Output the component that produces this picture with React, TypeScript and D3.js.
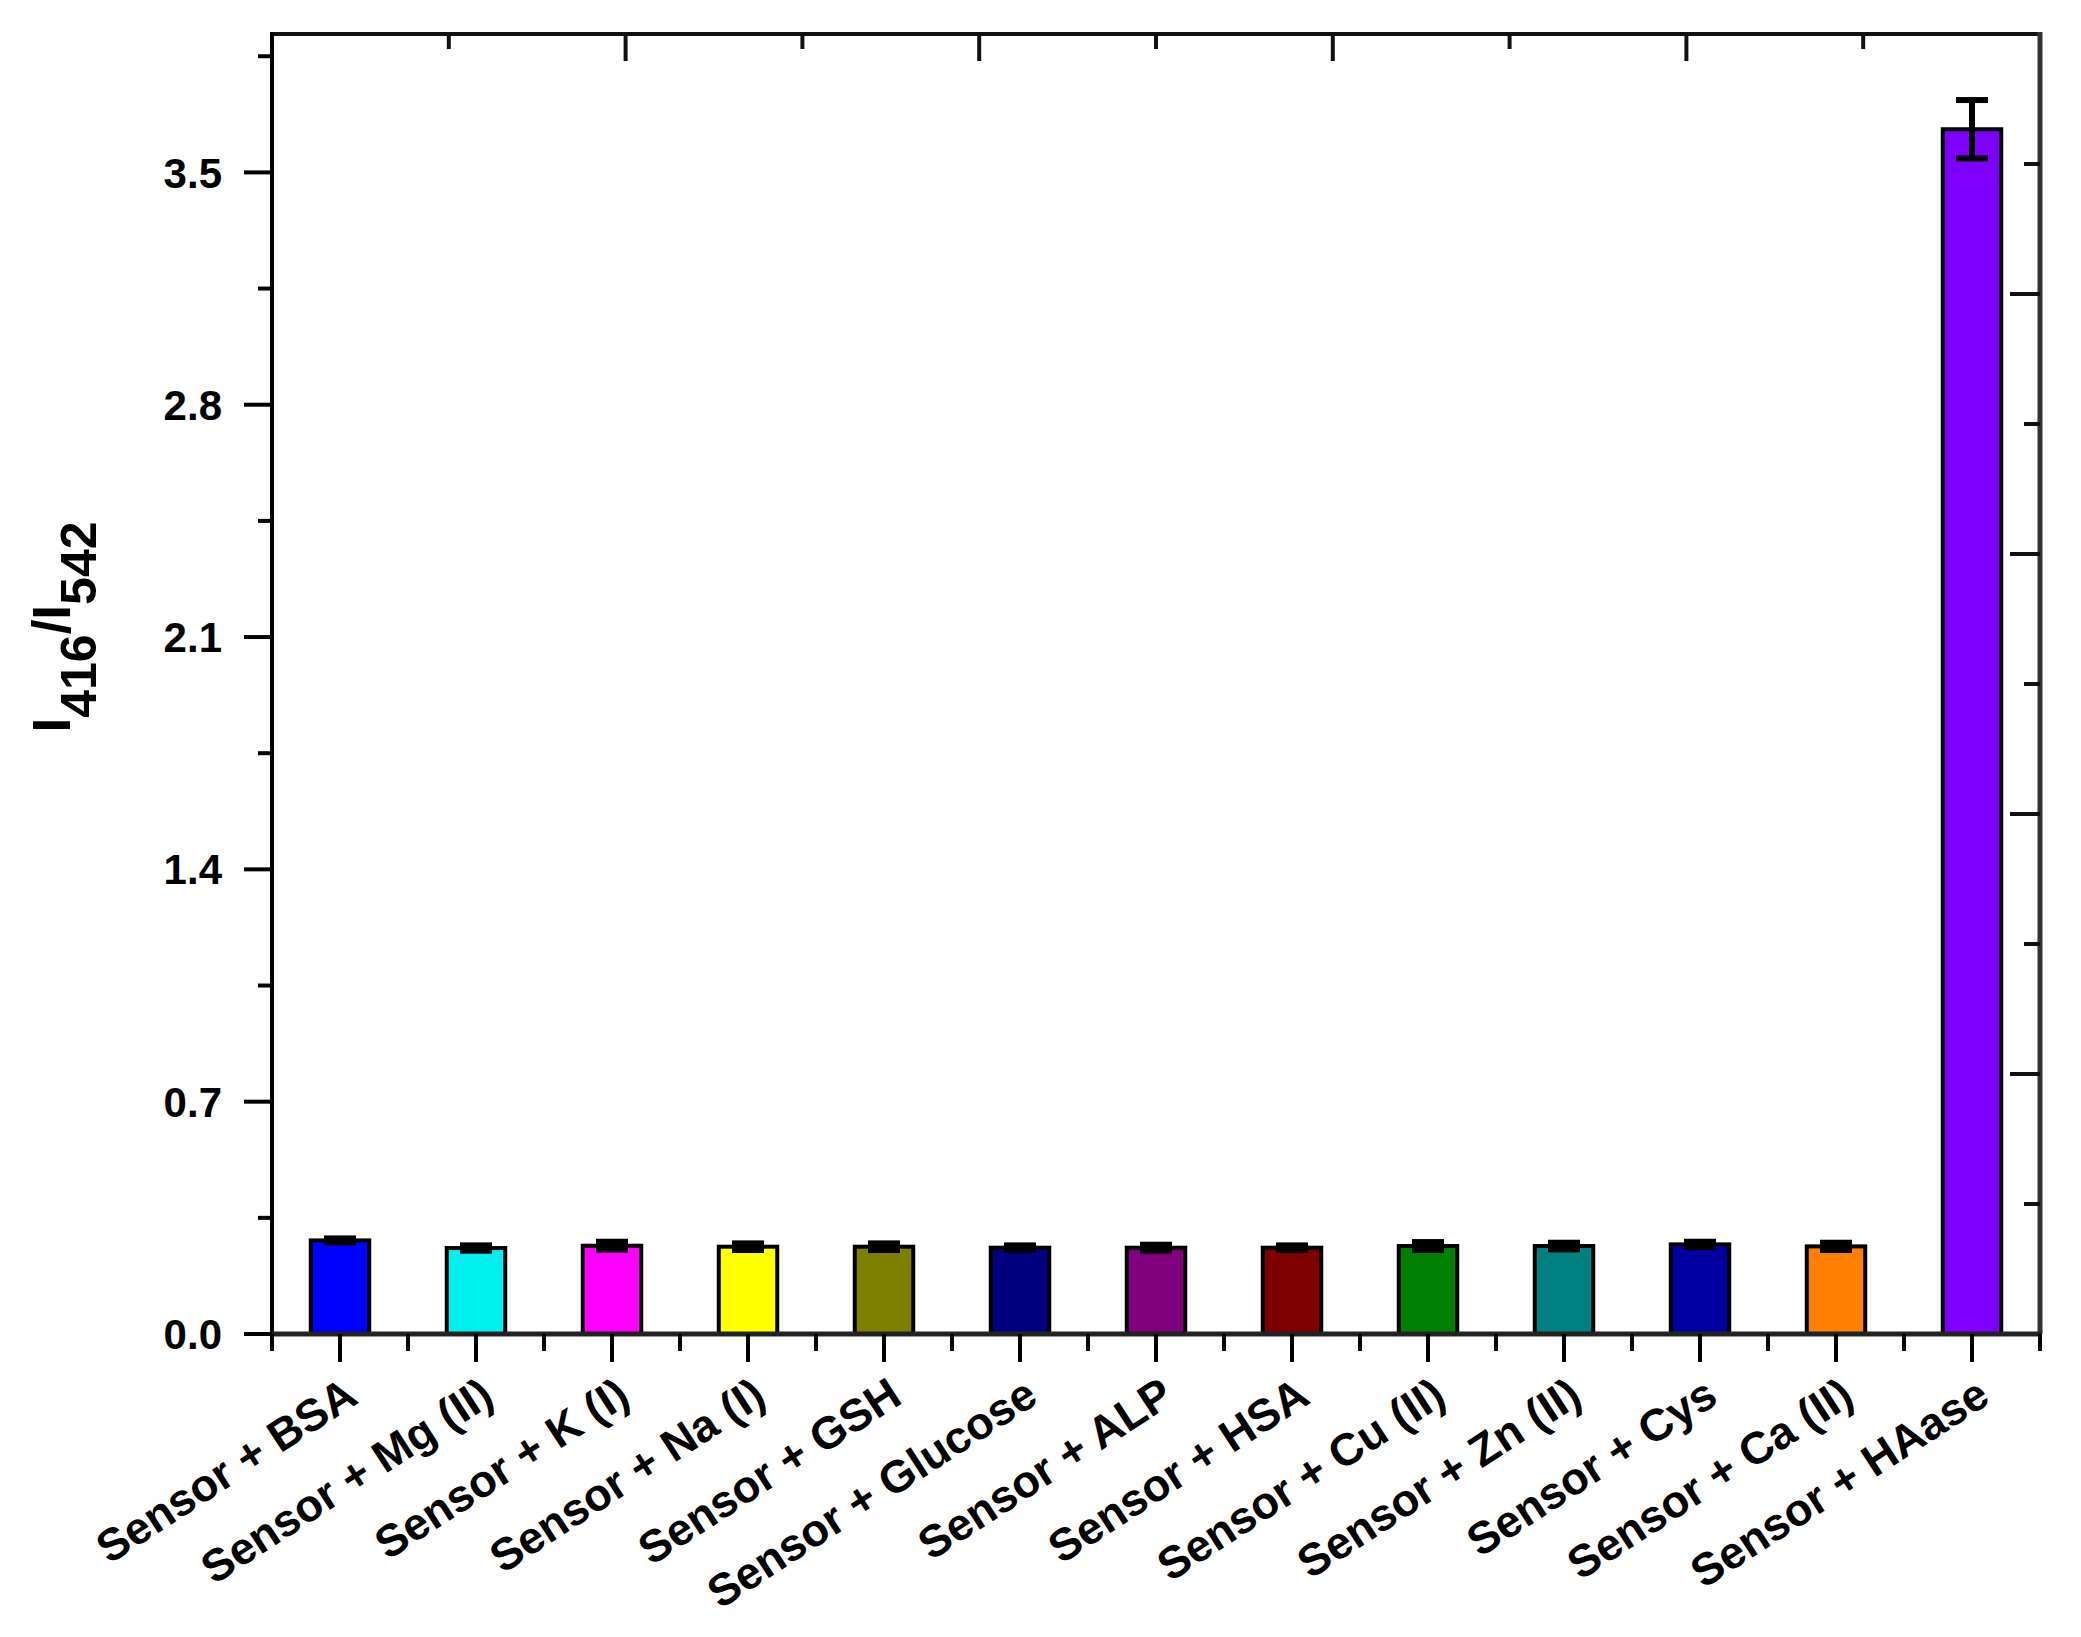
import React from "react";
import * as d3 from "d3";

const categories = [
  "Sensor + BSA",
  "Sensor + Mg (II)",
  "Sensor + K (I)",
  "Sensor + Na (I)",
  "Sensor + GSH",
  "Sensor + Glucose",
  "Sensor + ALP",
  "Sensor + HSA",
  "Sensor + Cu (II)",
  "Sensor + Zn (II)",
  "Sensor + Cys",
  "Sensor + Ca (II)",
  "Sensor + HAase",
];
const values = [0.282, 0.259, 0.266, 0.263, 0.263, 0.26, 0.26, 0.26, 0.265, 0.265, 0.27, 0.264, 3.63];
const errors = [0.006, 0.008, 0.012, 0.01, 0.01, 0.007, 0.009, 0.007, 0.012, 0.01, 0.008, 0.011, 0.088];
const colors = [
  "#0000FF", "#00F0F0", "#FF00FF", "#FFFF00", "#808000", "#000080", "#800080",
  "#800000", "#008000", "#008080", "#0000A0", "#FF8000", "#8000FF",
];
const yMajorTicks = [0, 0.7, 1.4, 2.1, 2.8, 3.5];
const yMinorTicks = [0.35, 1.05, 1.75, 2.45, 3.15, 3.85];
const yDomainMax = 3.917;
const auxTicks = [1, 2, 3, 4, 5, 6, 7, 8, 9]; // top/right axes, 0..10

const W = 2081;
const H = 1637;
const L = 272, R = 2040, T = 34, B = 1334;
const FONT = "'Liberation Sans', Arial, Helvetica, sans-serif";

export default function App() {
  const x = d3.scaleBand<string>().domain(categories).range([L, R]).padding(0);
  const y = d3.scaleLinear().domain([0, yDomainMax]).range([B, T]);
  const xAux = d3.scaleLinear().domain([0, 10]).range([L, R]);
  const yAux = d3.scaleLinear().domain([0, 10]).range([B, T]);
  const bw = x.bandwidth();
  const barW = bw * 0.43;
  const capW = 32;
  const fmt = d3.format(".1f");
  const boundaries = d3.range(categories.length + 1).map((i) => L + i * bw);
  const angle = -33;

  return (
    <svg width={W} height={H} style={{ position: "absolute", left: 0, top: 0, background: "#fff" }} fontFamily={FONT}>
      <rect x={0} y={0} width={W} height={H} fill="#fff" />
      {/* bars */}
      {categories.map((c, i) => {
        const cx = (x(c) as number) + bw / 2;
        return (
          <g key={c}>
            <rect x={cx - barW / 2} y={y(values[i])} width={barW} height={B - y(values[i])} fill={colors[i]} stroke="#000" strokeWidth={4} />
            <line x1={cx} x2={cx} y1={y(values[i] + errors[i])} y2={y(values[i] - errors[i])} stroke="#000" strokeWidth={6} />
            <line x1={cx - capW / 2} x2={cx + capW / 2} y1={y(values[i] + errors[i])} y2={y(values[i] + errors[i])} stroke="#000" strokeWidth={6} />
            <line x1={cx - capW / 2} x2={cx + capW / 2} y1={y(values[i] - errors[i])} y2={y(values[i] - errors[i])} stroke="#000" strokeWidth={6} />
          </g>
        );
      })}
      {/* frame */}
      <line x1={L} x2={R} y1={T} y2={T} stroke="#111" strokeWidth={4} />
      <line x1={R} x2={R} y1={T - 2} y2={B} stroke="#333" strokeWidth={5} />
      <line x1={L} x2={L} y1={T - 2} y2={B} stroke="#000" strokeWidth={4} />
      <line x1={L - 2} x2={R + 2} y1={B} y2={B} stroke="#222" strokeWidth={5} />
      {/* left ticks */}
      {yMajorTicks.map((t) => (
        <g key={"ym" + t}>
          <line x1={L - 28} x2={L} y1={y(t)} y2={y(t)} stroke="#000" strokeWidth={4} />
          <text x={222} y={y(t)} dy="0.36em" textAnchor="end" fontSize={42} fontWeight="bold" fill="#000">
            {fmt(t)}
          </text>
        </g>
      ))}
      {yMinorTicks.map((t) => (
        <line key={"yn" + t} x1={L - 14} x2={L} y1={y(t)} y2={y(t)} stroke="#000" strokeWidth={4} />
      ))}
      {/* top & right inward ticks */}
      {auxTicks.map((t) => (
        <g key={"a" + t}>
          <line x1={xAux(t)} x2={xAux(t)} y1={T} y2={T + (t % 2 === 0 ? 27 : 15)} stroke="#111" strokeWidth={4} />
          <line x1={R - (t % 2 === 0 ? 30 : 16)} x2={R} y1={yAux(t)} y2={yAux(t)} stroke="#111" strokeWidth={4} />
        </g>
      ))}
      {/* bottom ticks */}
      {boundaries.map((bx, i) => (
        <line key={"bm" + i} x1={bx} x2={bx} y1={B} y2={B + 17} stroke="#000" strokeWidth={4} />
      ))}
      {categories.map((c) => {
        const cx = (x(c) as number) + bw / 2;
        return <line key={"bt" + c} x1={cx} x2={cx} y1={B} y2={B + 28} stroke="#000" strokeWidth={4} />;
      })}
      {/* x labels */}
      {categories.map((c) => {
        const cx = (x(c) as number) + bw / 2 + 20;
        const ty = 1402;
        return (
          <text key={"xl" + c} x={cx} y={ty} transform={`rotate(${angle},${cx},${ty})`} textAnchor="end" fontSize={45} fontWeight="bold" fill="#000">
            {c}
          </text>
        );
      })}
      {/* y title */}
      <text x={70} y={627} transform="rotate(-90,70,627)" textAnchor="middle" fontWeight="bold" fontSize={53} fill="#000">
        <tspan>I</tspan>
        <tspan dy={26} fontSize={50}>416</tspan>
        <tspan dy={-26}>/I</tspan>
        <tspan dy={26} fontSize={50}>542</tspan>
      </text>
    </svg>
  );
}
